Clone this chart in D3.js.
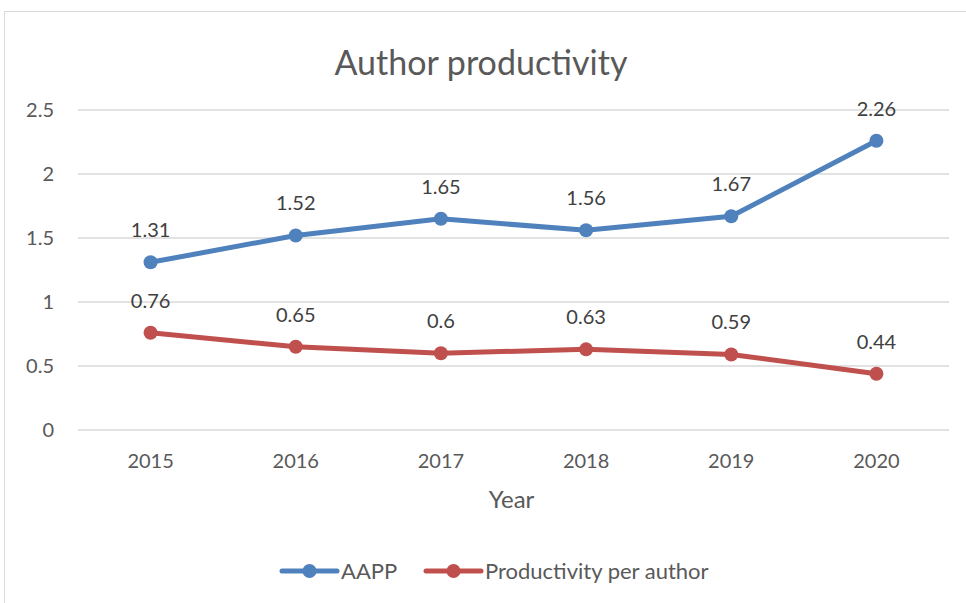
<!DOCTYPE html>
<html>
<head>
<meta charset="utf-8">
<script src="https://cdn.jsdelivr.net/npm/d3@7"></script>
<style>
  body { margin: 0; background: #fff; }
  text { font-family: Lato, "Open Sans", sans-serif; fill: #595959; }
</style>
</head>
<body>
<svg id="chart" width="966" height="603"></svg>
<script>
const years = ["2015", "2016", "2017", "2018", "2019", "2020"];
const aapp = [1.31, 1.52, 1.65, 1.56, 1.67, 2.26];
const perAuthor = [0.76, 0.65, 0.6, 0.63, 0.59, 0.44];
const yTicks = [0, 0.5, 1, 1.5, 2, 2.5];

const series = [
  { name: "AAPP", values: aapp, color: "#4F81BD" },
  { name: "Productivity per author", values: perAuthor, color: "#C0504D" },
];

const margin = { top: 110, right: 17, bottom: 173, left: 78 },
  width = 966 - margin.left - margin.right,
  height = 603 - margin.top - margin.bottom;

const svg = d3.select("#chart");

// chart border
svg
  .append("rect")
  .attr("x", 4.5)
  .attr("y", 11.5)
  .attr("width", 1000)
  .attr("height", 620)
  .attr("fill", "none")
  .attr("stroke", "#d9d9d9");

const g = svg
  .append("g")
  .attr("transform", `translate(${margin.left},${margin.top})`);

const x = d3.scaleBand().domain(years).range([0, width]);
const y = d3.scaleLinear().domain([0, 2.5]).range([height, 0]);

// gridlines
g.append("g")
  .selectAll("line")
  .data(yTicks)
  .join("line")
  .attr("x1", 0)
  .attr("x2", width)
  .attr("y1", (d) => y(d))
  .attr("y2", (d) => y(d))
  .attr("stroke", "#d9d9d9")
  .attr("stroke-width", 1.5);

// y axis labels
g.append("g")
  .call(d3.axisLeft(y).tickValues(yTicks).tickSize(0).tickPadding(24).tickFormat((d) => d))
  .call((a) => a.select(".domain").remove())
  .selectAll("text")
  .style("font-size", "20px")
  .style("font-family", "Lato, sans-serif")
  .style("fill", "#595959");

// x axis labels
g.append("g")
  .attr("transform", `translate(0,${height})`)
  .call(d3.axisBottom(x).tickSize(0).tickPadding(24))
  .call((a) => a.select(".domain").remove())
  .selectAll("text")
  .style("font-size", "20px")
  .style("font-family", "Lato, sans-serif")
  .style("fill", "#595959");

// axis title
g.append("text")
  .attr("x", width / 2 - 2)
  .attr("y", height + 78)
  .attr("text-anchor", "middle")
  .attr("font-size", "24px")
  .text("Year");

// title
svg
  .append("text")
  .attr("x", 481)
  .attr("y", 75)
  .attr("text-anchor", "middle")
  .attr("font-size", "34px")
  .text("Author productivity");

const line = d3
  .line()
  .x((d, i) => x(years[i]) + x.bandwidth() / 2)
  .y((d) => y(d));

series.forEach((s) => {
  g.append("path")
    .attr("d", line(s.values))
    .attr("fill", "none")
    .attr("stroke", s.color)
    .attr("stroke-width", 5)
    .attr("stroke-linejoin", "round")
    .attr("stroke-linecap", "round");

  g.selectAll(null)
    .data(s.values)
    .join("circle")
    .attr("cx", (d, i) => x(years[i]) + x.bandwidth() / 2)
    .attr("cy", (d) => y(d))
    .attr("r", 7)
    .attr("fill", s.color);

  g.selectAll(null)
    .data(s.values)
    .join("text")
    .attr("x", (d, i) => x(years[i]) + x.bandwidth() / 2)
    .attr("y", (d) => y(d) - 25)
    .attr("text-anchor", "middle")
    .attr("font-size", "20px")
    .style("fill", "#404040")
    .text((d) => d);
});

// legend
const legend = svg.append("g").attr("transform", "translate(0,571)");
const legendItems = [
  { x: 282, textX: 341 },
  { x: 426, textX: 485 },
];
series.forEach((s, i) => {
  const it = legendItems[i];
  legend
    .append("line")
    .attr("x1", it.x)
    .attr("x2", it.x + 55)
    .attr("stroke", s.color)
    .attr("stroke-width", 5)
    .attr("stroke-linecap", "round");
  legend
    .append("circle")
    .attr("cx", it.x + 27.5)
    .attr("r", 7)
    .attr("fill", s.color);
  legend
    .append("text")
    .attr("x", it.textX)
    .attr("y", 8)
    .attr("font-size", "22px")
    .text(s.name);
});
</script>
</body>
</html>
